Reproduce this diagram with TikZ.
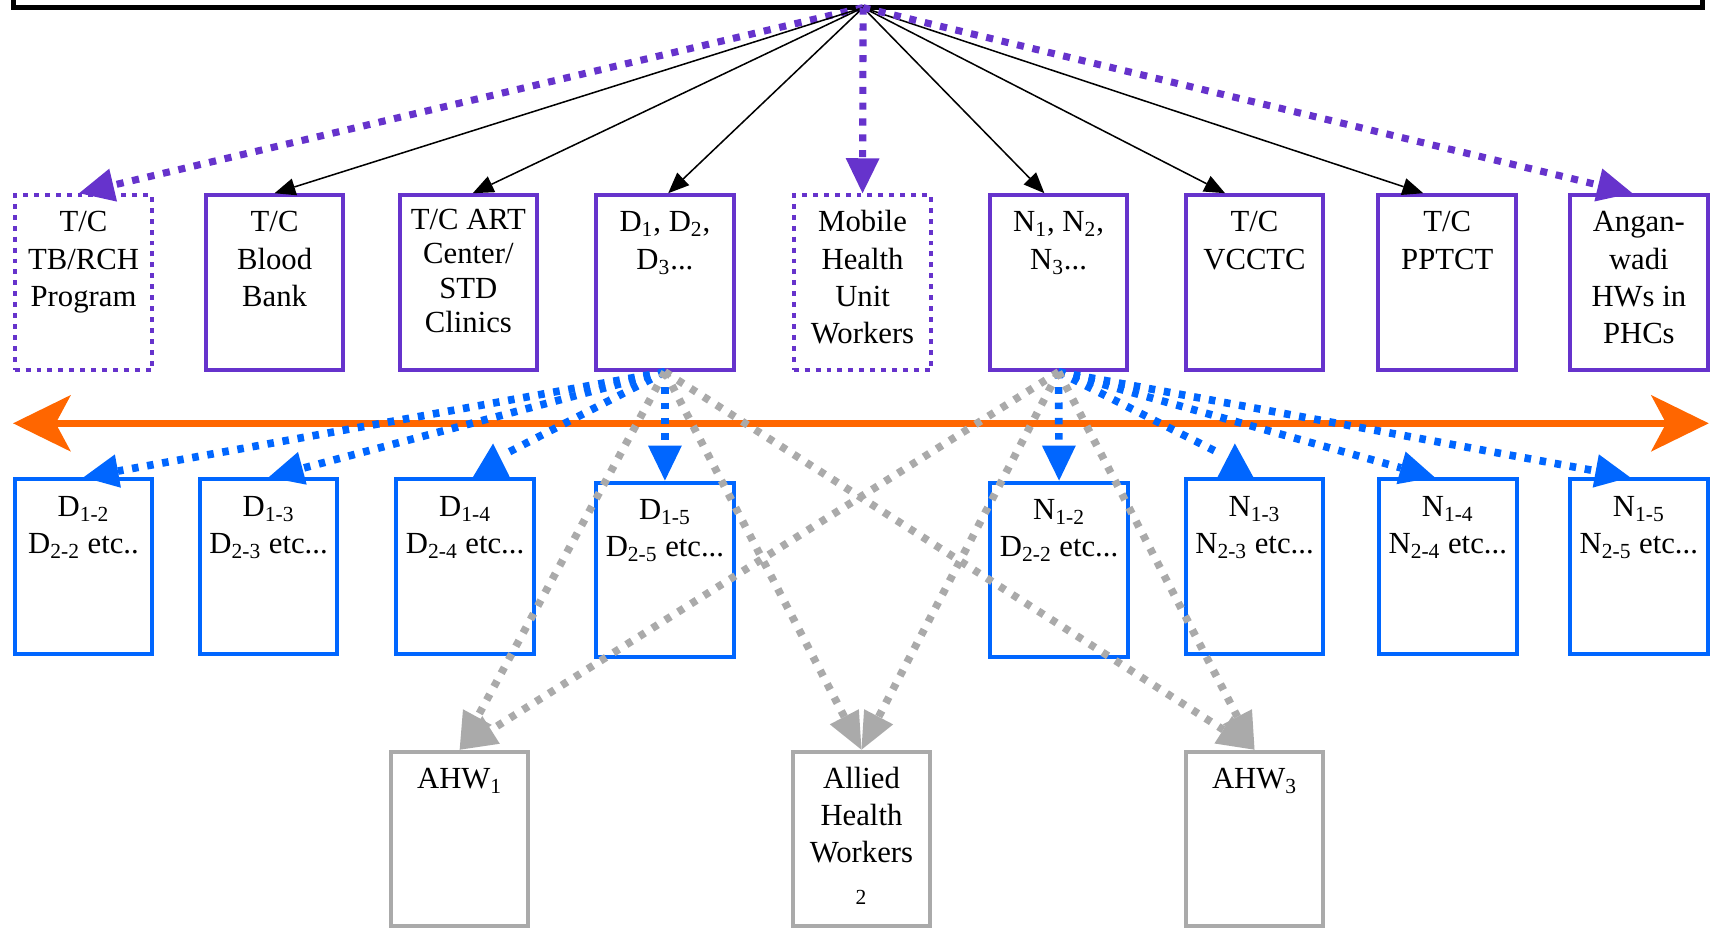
\documentclass[tikz,border=0pt]{standalone}
\usepackage{fontspec}
\setmainfont{Liberation Serif}
\usetikzlibrary{arrows.meta}
\definecolor{tcpurple}{HTML}{6633CC}
\definecolor{tcblue}{HTML}{0066FF}
\definecolor{tcorange}{HTML}{FF6600}
\definecolor{tcgray}{HTML}{AAAAAA}

\begin{document}
\begin{tikzpicture}[x=0.2mm,y=-0.2mm,
	box/.style={line width=0.74mm,minimum width=25.2mm,minimum height=32mm},
	pbox/.style={box,draw=tcpurple},
	pdot/.style={pbox,dash pattern=on 0.9mm off 1.1mm},
	bbox/.style={box,draw=tcblue},
	gbox/.style={box,draw=tcgray},
	txt/.style={anchor=base,inner sep=0pt,text width=24mm,align=flush center,font=\fontsize{16}{19.35}\selectfont},
	link/.style={line width=0.28mm,-{Triangle[length=3.8mm,width=3.2mm,line width=0pt]}},
	plink/.style={tcpurple,line width=1.3mm,dash pattern=on 1.3mm off 1.6mm,-{Triangle[length=6.4mm,width=6.2mm,line width=0pt]}},
	blink/.style={tcblue,line width=1.4mm,dash pattern=on 1.2mm off 1.6mm,-{Triangle[length=6.4mm,width=6.2mm,line width=0pt]}},
	glink/.style={tcgray,line width=1.4mm,dash pattern=on 1.2mm off 1.6mm,-{Triangle[length=6.8mm,width=6mm,line width=0pt]}}]
	\useasboundingbox (0,0) rectangle (1568,854);

	% head box, only its lower edge shows
	\node[draw,line width=0.9mm,minimum width=309.4mm,minimum height=18.7mm] (top) at (786,-40) {};
	\coordinate (hub) at (790.5,7);

	% first level
	\node[pdot] (tb) at (76.5,258.8) {};
	\node[txt] (tb-t) at ([yshift=-7.1mm]tb.north) {T/C\\TB/RCH\\Program};
	\node[pbox] (blood) at (251.5,258.8) {};
	\node[txt] (blood-t) at ([yshift=-7.1mm]blood.north) {T/C\\Blood\\Bank};
	\node[pbox] (art) at (429,258.8) {};
	\node[txt,font=\fontsize{16}{17.8}\selectfont] (art-t) at ([yshift=-6.7mm]art.north) {T/C ART\\Center/\\STD\\Clinics};
	\node[pbox] (dd) at (609,258.8) {};
	\node[txt] (dd-t) at ([yshift=-7.1mm]dd.north) {D\textsubscript{1}, D\textsubscript{2},\\D\textsubscript{3}...};
	\node[pdot] (mobile) at (790,258.8) {};
	\node[txt] (mobile-t) at ([yshift=-7.1mm]mobile.north) {Mobile\\Health\\Unit\\Workers};
	\node[pbox] (nn) at (969.5,258.8) {};
	\node[txt] (nn-t) at ([yshift=-7.1mm]nn.north) {N\textsubscript{1}, N\textsubscript{2},\\N\textsubscript{3}...};
	\node[pbox] (vcctc) at (1149,258.8) {};
	\node[txt] (vcctc-t) at ([yshift=-7.1mm]vcctc.north) {T/C\\VCCTC};
	\node[pbox] (pptct) at (1325.5,258.8) {};
	\node[txt] (pptct-t) at ([yshift=-7.1mm]pptct.north) {T/C\\PPTCT};
	\node[pbox] (angan) at (1501,258.8) {};
	\node[txt] (angan-t) at ([yshift=-7.1mm]angan.north) {Angan-\\wadi\\HWs in\\PHCs};

	% second level
	\node[bbox] (d12) at (76.5,519) {};
	\node[txt] (d12-t) at ([yshift=-7.1mm]d12.north) {D\textsubscript{1-2}\\D\textsubscript{2-2} etc..};
	\node[bbox] (d13) at (246,519) {};
	\node[txt] (d13-t) at ([yshift=-7.1mm]d13.north) {D\textsubscript{1-3}\\D\textsubscript{2-3} etc...};
	\node[bbox] (d14) at (426,519) {};
	\node[txt] (d14-t) at ([yshift=-7.1mm]d14.north) {D\textsubscript{1-4}\\D\textsubscript{2-4} etc...};
	\node[bbox] (d15) at (609,522) {};
	\node[txt] (d15-t) at ([yshift=-7.1mm]d15.north) {D\textsubscript{1-5}\\D\textsubscript{2-5} etc...};
	\node[bbox] (n12) at (970,522) {};
	\node[txt] (n12-t) at ([yshift=-7.1mm]n12.north) {N\textsubscript{1-2}\\D\textsubscript{2-2} etc...};
	\node[bbox] (n13) at (1149,519) {};
	\node[txt] (n13-t) at ([yshift=-7.1mm]n13.north) {N\textsubscript{1-3}\\N\textsubscript{2-3} etc...};
	\node[bbox] (n14) at (1326,519) {};
	\node[txt] (n14-t) at ([yshift=-7.1mm]n14.north) {N\textsubscript{1-4}\\N\textsubscript{2-4} etc...};
	\node[bbox] (n15) at (1501,519) {};
	\node[txt] (n15-t) at ([yshift=-7.1mm]n15.north) {N\textsubscript{1-5}\\N\textsubscript{2-5} etc...};

	% allied health workers
	\node[gbox] (ahw1) at (421,768.5) {};
	\node[txt] (ahw1-t) at ([yshift=-7.1mm]ahw1.north) {AHW\textsubscript{1}};
	\node[gbox] (allied) at (789,768.5) {};
	\node[txt] (allied-t) at ([yshift=-7.1mm]allied.north) {Allied\\Health\\Workers\\\textsubscript{2}};
	\node[gbox] (ahw3) at (1149,768.5) {};
	\node[txt] (ahw3-t) at ([yshift=-7.1mm]ahw3.north) {AHW\textsubscript{3}};

	% links from the head
	\draw[plink] (hub) -- ([xshift=-0.8mm]tb.north);
	\draw[link] (hub) -- (blood.north);
	\draw[link] (hub) -- ([xshift=0.8mm]art.north);
	\draw[link] (hub) -- ([xshift=0.6mm]dd.north);
	\draw[plink] (hub) -- (mobile.north);
	\draw[link] (hub) -- ([xshift=-2.6mm]nn.north);
	\draw[link] (hub) -- ([xshift=-5.4mm]vcctc.north);
	\draw[link] (hub) -- ([xshift=-4.4mm]pptct.north);
	\draw[plink] (hub) -- ([xshift=-1.2mm]angan.north);

	% two-way arrow between the levels
	\coordinate (lw) at (12,387.7);
	\coordinate (le) at (1565,387.7);
	\draw[tcorange,line width=1.2mm,{Stealth[length=10.6mm,width=10.4mm,inset=2.8mm,line width=0pt]}-{Stealth[length=10.6mm,width=10.4mm,inset=2.8mm,line width=0pt]}] (lw) -- (le);

	% D and N down to the second level
	\draw[blink] (dd.south) -- (d12.north);
	\draw[blink] (dd.south) -- (d13.north);
	\coordinate (d14-end) at ([shift={(34,-20)}]d14.north);
	\draw[blink,-] (dd.south) -- (d14-end);
	\fill[tcblue] ([shift={(7,0)}]d14.north) -- ([shift={(41,0)}]d14.north) -- ([shift={(25.6,-31)}]d14.north) -- cycle;
	\draw[blink] (dd.south) -- (d15.north);
	\draw[blink] (nn.south) -- (n12.north);
	\coordinate (n13-end) at ([shift={(-30,-21)}]n13.north);
	\draw[blink,-] (nn.south) -- (n13-end);
	\fill[tcblue] ([shift={(-34,0)}]n13.north) -- ([shift={(-1,0)}]n13.north) -- ([shift={(-18,-31)}]n13.north) -- cycle;
	\draw[blink] (nn.south) -- ([xshift=-2.4mm]n14.north);
	\draw[blink] (nn.south) -- ([xshift=-1.6mm]n15.north);

	% D and N down to the allied health workers
	\draw[glink] (dd.south) -- (ahw1.north);
	\draw[glink] (dd.south) -- (allied.north);
	\draw[glink] (dd.south) -- (ahw3.north);
	\draw[glink] (nn.south) -- (ahw1.north);
	\draw[glink] (nn.south) -- (allied.north);
	\draw[glink] (nn.south) -- (ahw3.north);
\end{tikzpicture}
\end{document}
